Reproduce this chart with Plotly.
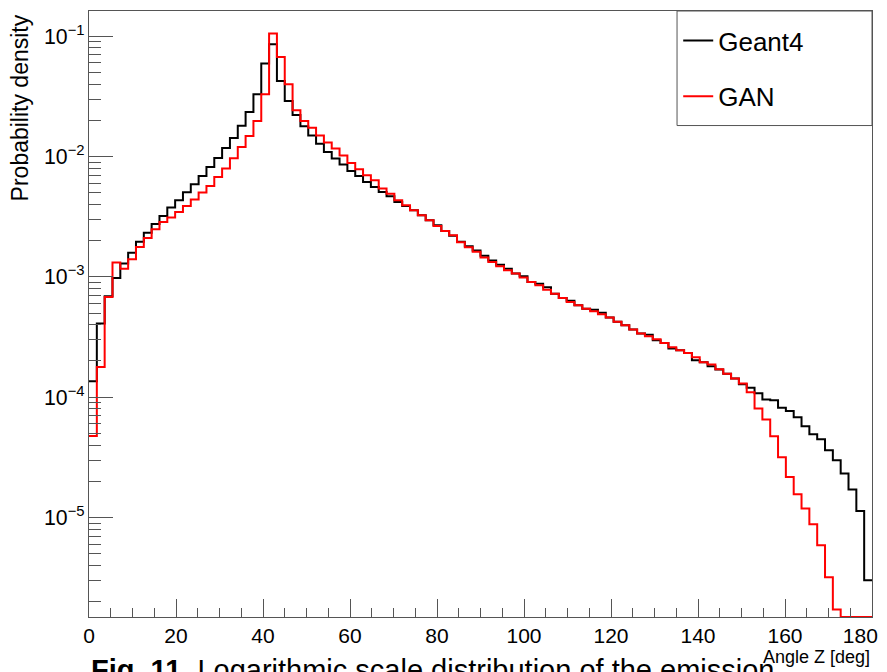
import numpy as np
import plotly.graph_objects as go

# 100 bins of 1.8 deg between 0 and 180 deg
x_min, x_max, n_bins = 0.0, 180.0, 100

geant4 = [
    1.355e-4, 4.09e-4, 6.90e-4, 9.79e-4, 1.29e-3, 1.59e-3, 1.96e-3, 2.33e-3, 2.75e-3, 3.20e-3,
    3.78e-3, 4.33e-3, 5.05e-3, 5.89e-3, 6.90e-3, 8.20e-3, 9.73e-3, 1.18e-2, 1.43e-2, 1.80e-2,
    2.35e-2, 3.30e-2, 5.93e-2, 8.58e-2, 4.25e-2, 2.90e-2, 2.22e-2, 1.79e-2, 1.50e-2, 1.28e-2,
    1.09e-2, 9.62e-3, 8.58e-3, 7.59e-3, 6.90e-3, 6.15e-3, 5.59e-3, 5.08e-3, 4.68e-3, 4.19e-3,
    3.88e-3, 3.58e-3, 3.25e-3, 2.95e-3, 2.69e-3, 2.41e-3, 2.20e-3, 1.96e-3, 1.80e-3, 1.66e-3,
    1.50e-3, 1.37e-3, 1.26e-3, 1.17e-3, 1.065e-3, 1.01e-3, 9.07e-4, 8.76e-4, 8.19e-4, 7.23e-4,
    6.68e-4, 6.33e-4, 5.81e-4, 5.43e-4, 5.33e-4, 5.03e-4, 4.59e-4, 4.23e-4, 3.96e-4, 3.65e-4,
    3.38e-4, 3.31e-4, 2.97e-4, 2.82e-4, 2.54e-4, 2.45e-4, 2.33e-4, 2.03e-4, 1.95e-4, 1.81e-4,
    1.70e-4, 1.57e-4, 1.43e-4, 1.28e-4, 1.20e-4, 1.08e-4, 9.55e-5, 9.42e-5, 8.19e-5, 7.68e-5,
    6.81e-5, 5.73e-5, 4.92e-5, 4.47e-5, 3.62e-5, 2.99e-5, 2.32e-5, 1.71e-5, 1.13e-5, 3.01e-6,
]

gan = [
    4.76e-5, 1.78e-4, 6.81e-4, 1.315e-3, 1.17e-3, 1.40e-3, 1.77e-3, 2.10e-3, 2.49e-3, 2.86e-3,
    3.11e-3, 3.46e-3, 3.88e-3, 4.39e-3, 5.02e-3, 5.70e-3, 6.77e-3, 7.95e-3, 9.68e-3, 1.20e-2,
    1.48e-2, 1.98e-2, 3.30e-2, 1.053e-1, 6.73e-2, 3.99e-2, 2.43e-2, 1.98e-2, 1.74e-2, 1.50e-2,
    1.31e-2, 1.165e-2, 1.02e-2, 8.85e-3, 7.84e-3, 7.00e-3, 6.35e-3, 5.42e-3, 4.92e-3, 4.33e-3,
    3.94e-3, 3.58e-3, 3.25e-3, 2.95e-3, 2.65e-3, 2.41e-3, 2.22e-3, 1.94e-3, 1.76e-3, 1.62e-3,
    1.45e-3, 1.33e-3, 1.225e-3, 1.135e-3, 1.065e-3, 9.87e-4, 9.07e-4, 8.51e-4, 7.81e-4, 7.23e-4,
    6.68e-4, 6.18e-4, 5.81e-4, 5.43e-4, 5.18e-4, 4.89e-4, 4.59e-4, 4.23e-4, 3.96e-4, 3.65e-4,
    3.38e-4, 3.21e-4, 3.03e-4, 2.82e-4, 2.60e-4, 2.45e-4, 2.33e-4, 2.15e-4, 1.95e-4, 1.87e-4,
    1.71e-4, 1.57e-4, 1.43e-4, 1.30e-4, 1.10e-4, 8.04e-5, 6.51e-5, 4.73e-5, 3.17e-5, 2.17e-5,
    1.56e-5, 1.19e-5, 8.78e-6, 5.87e-6, 3.18e-6, 1.72e-6, 0.0, 0.0, 0.0, 0.0,
]

series_names = ["Geant4", "GAN"]
series_colors = ["#000000", "#ff0000"]
x_ticks = [0, 20, 40, 60, 80, 100, 120, 140, 160, 180]
x_tick_labels = ["0", "20", "40", "60", "80", "100", "120", "140", "160",
                 "180&nbsp;&nbsp;&nbsp;&nbsp;"]

y_log_range = [-5.827, -0.79]
floor_val = 10 ** y_log_range[0]

edges = np.linspace(x_min, x_max, n_bins + 1)

SANS = "Liberation Sans, Arial, Helvetica, sans-serif"

fig = go.Figure()
for name, vals, col in zip(series_names, [geant4, gan], series_colors):
    v = np.asarray(vals, dtype=float)
    v = np.where(v > 0, v, floor_val)
    yy = np.append(v, v[-1])
    fig.add_trace(go.Scatter(
        x=edges, y=yy, mode="lines", name=name,
        line=dict(color=col, width=2, shape="hv"),
        legendgroup=name,
    ))

axis_col = "#555555"
fig.update_xaxes(
    range=[x_min, x_max], tickvals=x_ticks, ticktext=x_tick_labels,
    ticklabeloverflow="allow", automargin=False,
    showline=True, mirror=True, linecolor=axis_col, linewidth=1,
    ticks="inside", ticklen=18, tickwidth=1, tickcolor=axis_col,
    minor=dict(ticks="inside", ticklen=9, tickwidth=1, tickcolor=axis_col, dtick=5),
    showgrid=False, zeroline=False,
    tickfont=dict(family=SANS, size=21, color="#000"),
)
fig.update_yaxes(
    type="log", range=y_log_range, dtick=1, exponentformat="power",
    automargin=False,
    showline=True, mirror=True, linecolor=axis_col, linewidth=1,
    ticks="inside", ticklen=24, tickwidth=1, tickcolor=axis_col,
    minor=dict(ticks="inside", ticklen=12, tickwidth=1, tickcolor=axis_col, dtick="D1"),
    showgrid=False, zeroline=False,
    tickfont=dict(family=SANS, size=17, color="#000"),
)

fig.add_shape(type="rect", xref="paper", yref="paper",
              x0=0.751, x1=1.0, y0=0.811, y1=1.0,
              line=dict(color=axis_col, width=1), fillcolor="rgba(0,0,0,0)")

fig.add_annotation(text="Probability density", xref="paper", yref="paper",
                   x=-0.088, y=0.997, xanchor="center", yanchor="top",
                   textangle=-90, showarrow=False,
                   font=dict(family=SANS, size=23, color="#000"))
fig.add_annotation(text="<b>Fig. 11.</b> Logarithmic scale distribution of the emission",
                   xref="paper", yref="paper", x=0.0, y=-0.057,
                   xanchor="left", yanchor="top", showarrow=False,
                   font=dict(family=SANS, size=29, color="#000"))
fig.add_annotation(text="Angle Z [deg]", xref="paper", yref="paper",
                   x=1.0, y=-0.066, xanchor="right", yanchor="middle",
                   showarrow=False, bgcolor="rgba(0,0,0,0)",
                   font=dict(family=SANS, size=18, color="#000"))

fig.update_layout(
    width=887, height=672,
    margin=dict(l=89, r=15, t=11, b=55, autoexpand=False),
    paper_bgcolor="white", plot_bgcolor="white",
    showlegend=True,
    legend=dict(x=0.7525, y=0.99, xanchor="left", yanchor="top",
                bgcolor="rgba(0,0,0,0)", borderwidth=0,
                tracegroupgap=19,
                font=dict(family=SANS, size=26, color="#000")),
)

fig.write_html("out.html")
